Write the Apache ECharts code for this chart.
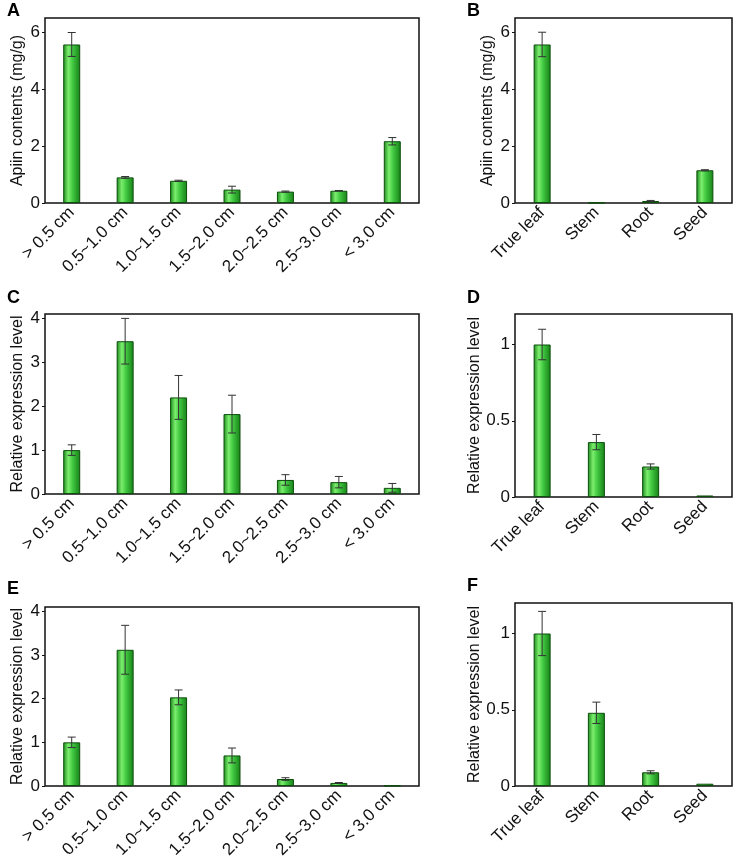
<!DOCTYPE html>
<html>
<head>
<meta charset="utf-8">
<script src="https://cdn.jsdelivr.net/npm/echarts@6/dist/echarts.min.js"></script>
<style>html,body{margin:0;padding:0;background:#fff}#c{width:749px;height:863px}</style>
</head>
<body>
<div id="c"></div>
<script>
// ---- data ----
var catsSize = ['> 0.5 cm', '0.5~1.0 cm', '1.0~1.5 cm', '1.5~2.0 cm', '2.0~2.5 cm', '2.5~3.0 cm', '< 3.0 cm'];
var catsTissue = ['True leaf', 'Stem', 'Root', 'Seed'];

var aVals = [5.57, 0.90, 0.78, 0.47, 0.40, 0.43, 2.17];
var aErr  = [0.42, 0.03, 0.02, 0.12, 0.02, 0.01, 0.13];
var bVals = [5.57, 0.01, 0.07, 1.15];
var bErr  = [0.43, 0, 0.02, 0.02];
var cVals = [1.00, 3.48, 2.20, 1.82, 0.32, 0.27, 0.14];
var cErr  = [0.12, 0.52, 0.50, 0.43, 0.12, 0.13, 0.10];
var dVals = [1.00, 0.36, 0.20, 0.01];
var dErr  = [0.10, 0.05, 0.017, 0];
var eVals = [1.00, 3.12, 2.03, 0.70, 0.16, 0.07, 0.01];
var eErr  = [0.12, 0.56, 0.17, 0.17, 0.03, 0.01, 0];
var fVals = [1.00, 0.48, 0.09, 0.015];
var fErr  = [0.145, 0.07, 0.01, 0];

var yTicksApiin = [0, 2, 4, 6];
var yTicksRel4 = [0, 1, 2, 3, 4];
var yTicksRel1 = [0, 0.5, 1];

// ---- build ----
var FONT = "'Liberation Sans', Arial, sans-serif";
var panels = [
  {letter:'A', cats:catsSize, vals:aVals, err:aErr, max:6.5, ticks:yTicksApiin, name:'Apiin contents (mg/g)', grid:{left:45, top:18, width:374, height:185}, nameGap:19, lx:7, ly:2},
  {letter:'B', cats:catsTissue, vals:bVals, err:bErr, max:6.5, ticks:yTicksApiin, name:'Apiin contents (mg/g)', grid:{left:515, top:18, width:217, height:185}, nameGap:19, lx:467, ly:2},
  {letter:'C', cats:catsSize, vals:cVals, err:cErr, max:4.1, ticks:yTicksRel4, name:'Relative expression level', grid:{left:45, top:314, width:374, height:180}, nameGap:19, lx:7, ly:289},
  {letter:'D', cats:catsTissue, vals:dVals, err:dErr, max:1.2, ticks:yTicksRel1, name:'Relative expression level', grid:{left:515, top:314, width:217, height:183}, nameGap:29, lx:467, ly:289},
  {letter:'E', cats:catsSize, vals:eVals, err:eErr, max:4.1, ticks:yTicksRel4, name:'Relative expression level', grid:{left:45, top:607, width:374, height:179}, nameGap:19, lx:7, ly:580},
  {letter:'F', cats:catsTissue, vals:fVals, err:fErr, max:1.2, ticks:yTicksRel1, name:'Relative expression level', grid:{left:515, top:603, width:217, height:183}, nameGap:29, lx:467, ly:577}
];

var barColor = new echarts.graphic.LinearGradient(0, 0, 1, 0, [
  {offset:0, color:'#1a861a'},
  {offset:0.3, color:'#7cee6e'},
  {offset:0.55, color:'#42c942'},
  {offset:1, color:'#168016'}
]);

function errRender(params, api) {
  var x = api.value(0), y = api.value(1), e = api.value(2);
  if (!e) return null;
  var top = api.coord([x, y + e]);
  var bot = api.coord([x, y - e]);
  var hw = 4;
  var style = {stroke:'#333', lineWidth:1};
  return {type:'group', children:[
    {type:'line', shape:{x1:top[0], y1:top[1], x2:bot[0], y2:bot[1]}, style:style},
    {type:'line', shape:{x1:top[0]-hw, y1:top[1], x2:top[0]+hw, y2:top[1]}, style:style},
    {type:'line', shape:{x1:bot[0]-hw, y1:bot[1], x2:bot[0]+hw, y2:bot[1]}, style:style}
  ]};
}

var option = {animation:false, textStyle:{fontFamily:FONT}, grid:[], xAxis:[], yAxis:[], series:[], graphic:[]};
panels.forEach(function(p, i) {
  option.grid.push(Object.assign({show:true, borderColor:'#111', borderWidth:1.5, backgroundColor:'transparent', containLabel:false}, p.grid));
  option.xAxis.push({type:'category', gridIndex:i, data:p.cats,
    axisLine:{show:false}, axisTick:{show:false},
    axisLabel:{rotate:45, fontSize:17, color:'#111', fontFamily:FONT, margin:7, interval:0}});
  option.yAxis.push({type:'value', gridIndex:i, min:0, max:p.max,
    name:p.name, nameLocation:'middle', nameGap:p.nameGap, nameRotate:90,
    nameTextStyle:{fontSize:16, color:'#111', fontFamily:FONT},
    axisLine:{show:false}, splitLine:{show:false},
    axisTick:{show:true, inside:false, length:3, lineStyle:{color:'#111'}, customValues:p.ticks},
    axisLabel:{fontSize:17, color:'#111', fontFamily:FONT, margin:5, customValues:p.ticks}});
  option.series.push({type:'bar', xAxisIndex:i, yAxisIndex:i, data:p.vals, barWidth:17,
    itemStyle:{color:barColor, borderColor:'#0c4f0c', borderWidth:1}});
  option.series.push({type:'custom', xAxisIndex:i, yAxisIndex:i, renderItem:errRender, z:5,
    data:p.vals.map(function(v, k){ return [k, v, p.err[k]]; })});
  option.graphic.push({type:'text', left:p.lx, top:p.ly, style:{text:p.letter, font:'bold 18px ' + FONT, fill:'#000'}});
});

var chart = echarts.init(document.getElementById('c'), null, {renderer:'canvas'});
chart.setOption(option);
</script>
</body>
</html>
